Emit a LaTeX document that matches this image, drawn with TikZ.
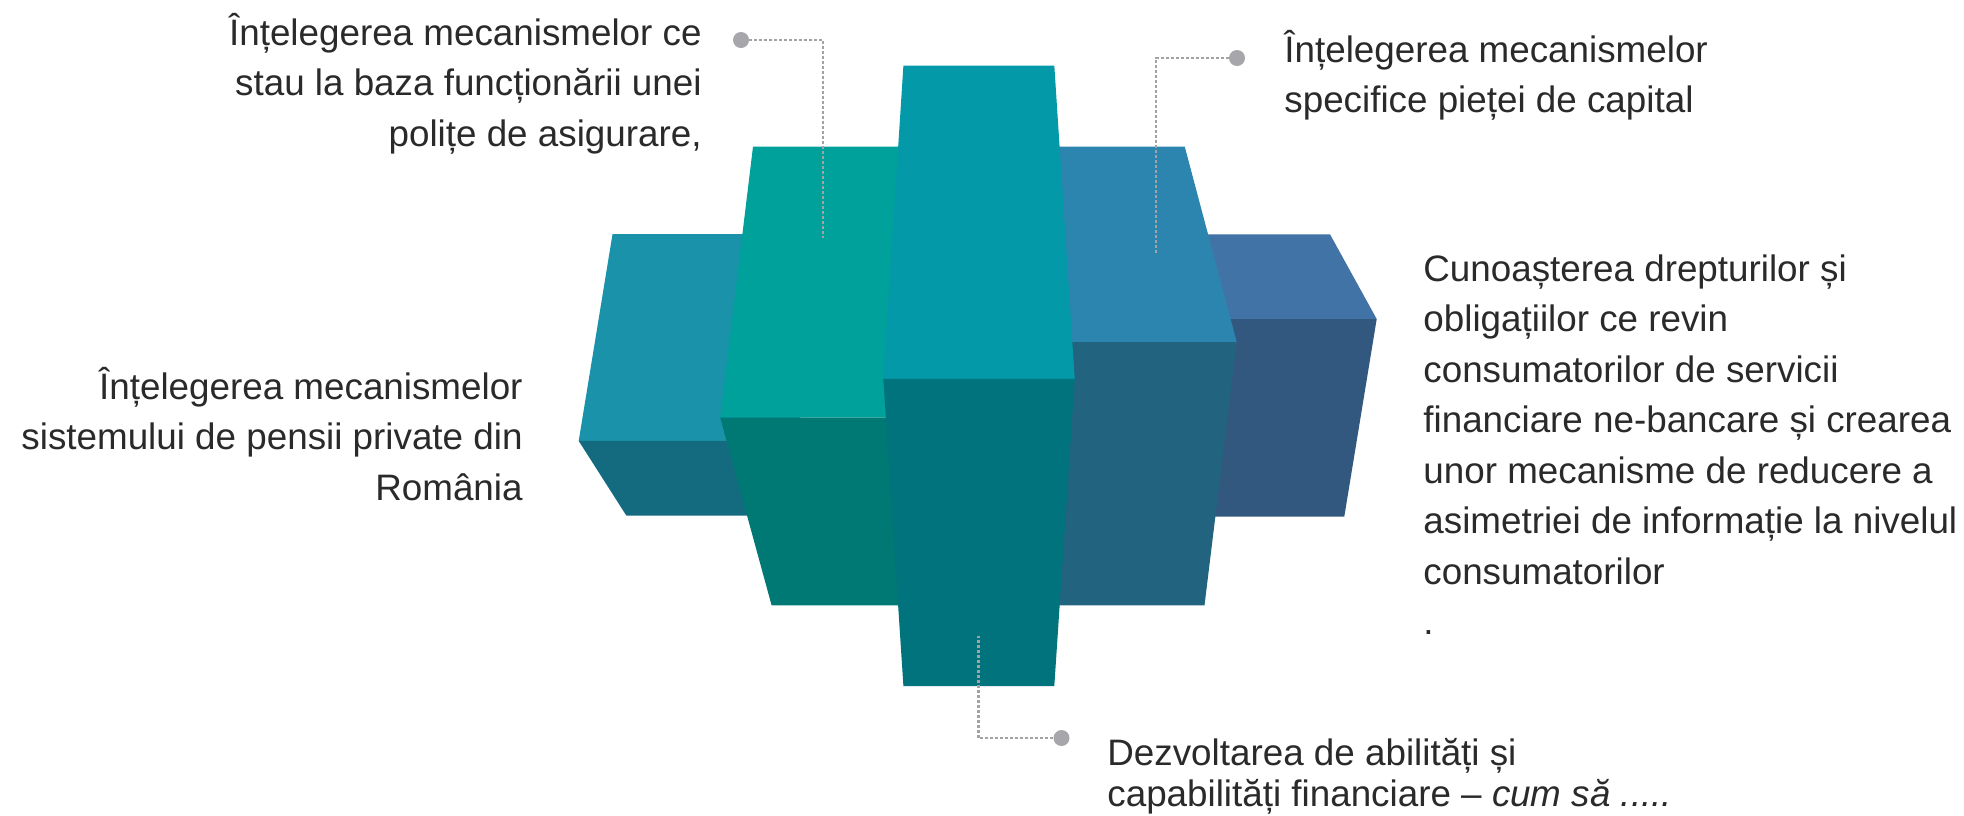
\documentclass[tikz,border=0pt]{standalone}
\usepackage{fontspec}
\setmainfont{Liberation Sans}
\definecolor{aTop}{HTML}{1A92AA}
\definecolor{aLow}{HTML}{146B7F}
\definecolor{bTop}{HTML}{00A19B}
\definecolor{bLow}{HTML}{007873}
\definecolor{cTop}{HTML}{0399A8}
\definecolor{cLow}{HTML}{00737D}
\definecolor{dTop}{HTML}{2B85AE}
\definecolor{dLow}{HTML}{22637F}
\definecolor{eTop}{HTML}{4273A6}
\definecolor{eLow}{HTML}{33587F}
\definecolor{txtgray}{HTML}{2A2A2A}
\definecolor{conngray}{HTML}{A3A3A3}
\definecolor{dotgray}{HTML}{A7A7AB}
\begin{document}
\begin{tikzpicture}[x=0.5pt,y=-0.5pt,
  txt/.style={font=\fontsize{18.4}{25.25}\selectfont, text=txtgray, inner sep=0pt},
  lr/.style={txt, anchor=base east},
  ll/.style={txt, anchor=base west},
  conn/.style={draw=conngray, line width=1.4pt, dash pattern=on 1.5pt off 1pt},
  pin/.style={circle, fill=dotgray, minimum size=8pt, inner sep=0pt}]
\useasboundingbox (0,0) rectangle (1964,815);
\fill[white] (0,0) rectangle (1964,815);

% back columns
\fill[aTop] (612.5,234.2) -- (800,234.2) -- (800,440.9) -- (578.7,440.9) -- cycle;
\fill[aLow] (578.7,440.9) -- (800,440.9) -- (800,515.5) -- (626.3,515.5) -- cycle;
\fill[eTop] (1150,234.3) -- (1330,234.3) -- (1376.7,319) -- (1150,319) -- cycle;
\fill[eLow] (1150,319) -- (1376.7,319) -- (1344.3,516.5) -- (1170,516.5) -- cycle;
% middle columns
\fill[bTop] (753,146.6) -- (950,146.6) -- (950,417.5) -- (720.2,417.5) -- cycle;
\fill[bLow] (720.2,417.5) -- (950,417.5) -- (950,605.3) -- (771.6,605.3) -- cycle;
\fill[dTop] (1040,146.5) -- (1184.7,146.5) -- (1236.7,342) -- (1040,342) -- cycle;
\fill[dLow] (1040,342) -- (1236.7,342) -- (1204.5,605.3) -- (1040,605.3) -- cycle;
% front column
\fill[cTop] (903.4,65.5) -- (1054.3,65.5) -- (1074.7,378.8) -- (883.3,378.8) -- cycle;
\fill[cLow] (883.3,378.8) -- (1074.7,378.8) -- (1054.3,686) -- (903.4,686) -- cycle;

% connectors
\node[pin] (d1) at (741,40) {};
\coordinate (k1a) at (823,40);
\coordinate (k1b) at (823,238);
\draw[conn] (d1.east) -- (k1a) -- (k1b);
\node[pin] (d2) at (1237,58) {};
\coordinate (k2a) at (1156,58);
\coordinate (k2b) at (1156,255);
\draw[conn] (d2.west) -- (k2a) -- (k2b);
\node[pin] (d3) at (1061.5,738) {};
\coordinate (k3a) at (978.5,738);
\coordinate (k3b) at (978.5,636);
\draw[conn] (d3.west) -- (k3a) -- (k3b);

% texts
\node[lr] (t1a) at (702,45) {Înțelegerea mecanismelor ce};
\node[lr] (t1b) at (702,95.5) {stau la baza funcționării unei};
\node[lr] (t1c) at (702,146) {polițe de asigurare,};

\node[lr] (t2a) at (523,399) {Înțelegerea mecanismelor};
\node[lr] (t2b) at (523,449.5) {sistemului de pensii private din};
\node[lr] (t2c) at (523,500) {România};

\node[ll] (t3a) at (1284,62) {Înțelegerea mecanismelor};
\node[ll] (t3b) at (1284,112.5) {specifice pieței de capital};

\node[ll] (t4a) at (1423,281) {Cunoașterea drepturilor și};
\node[ll] (t4b) at (1423,331.5) {obligațiilor ce revin};
\node[ll] (t4c) at (1423,382) {consumatorilor de servicii};
\node[ll] (t4d) at (1423,432.5) {financiare ne-bancare și crearea};
\node[ll] (t4e) at (1423,483) {unor mecanisme de reducere a};
\node[ll] (t4f) at (1423,533.5) {asimetriei de informație la nivelul};
\node[ll] (t4g) at (1423,584) {consumatorilor};
\node[ll] (t4h) at (1423,634.5) {.};

\node[ll] (t5a) at (1107,765) {Dezvoltarea de abilități și};
\node[ll] (t5b) at (1107,806) {capabilități financiare – \textit{cum să .....}};
\end{tikzpicture}
\end{document}
